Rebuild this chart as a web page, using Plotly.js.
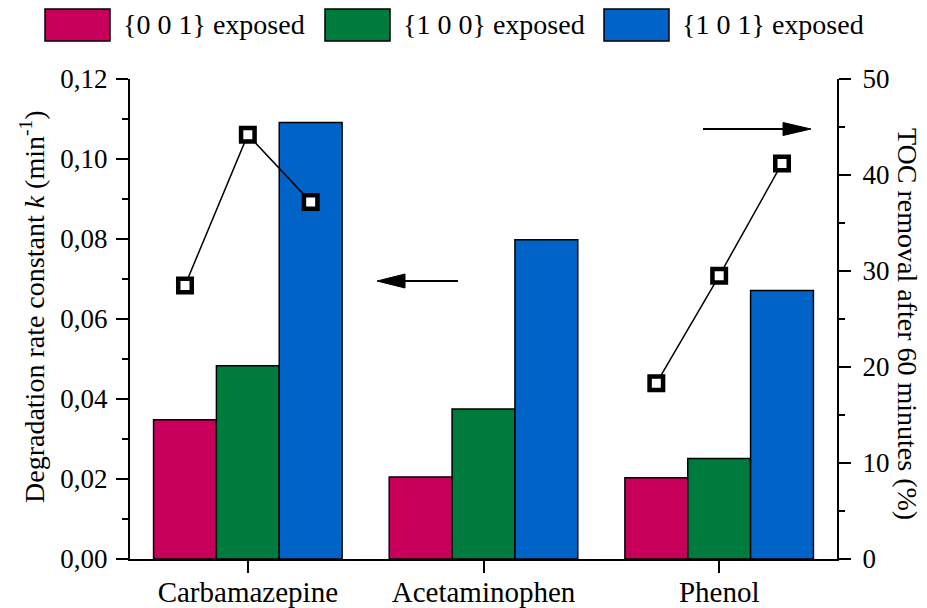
<!DOCTYPE html>
<html>
<head>
<meta charset="utf-8">
<script src="https://cdn.plot.ly/plotly-3.0.1.min.js"></script>
<style>html,body{margin:0;padding:0;background:#fff;}#chart{width:927px;height:608px;}</style>
</head>
<body>
<div id="chart"></div>
<script>
const categories = ['Carbamazepine', 'Acetaminophen', 'Phenol'];
const seriesNames = ['{0 0 1} exposed', '{1 0 0} exposed', '{1 0 1} exposed'];
const rate001 = [0.0348, 0.0205, 0.0203];
const rate100 = [0.0483, 0.0375, 0.0251];
const rate101 = [0.1091, 0.0798, 0.0671];
const toc001 = [28.5, null, 18.3];
const toc100 = [44.2, null, 29.5];
const toc101 = [37.2, null, 41.2];

const colors = ['#C8005C', '#007B3E', '#0063C8'];
const FONT = 'Liberation Serif, serif';
const bargap = 0.2;
const catIdx = categories.map((c, i) => i);
const rates = [rate001, rate100, rate101];
const tocs = [toc001, toc100, toc101];
const nS = rates.length;
const bw = (1 - bargap) / nS;
const offsets = rates.map((r, k) => (k - (nS - 1) / 2) * bw);

const traces = [];
rates.forEach((r, k) => {
  traces.push({
    type: 'bar', x: catIdx, y: r, name: seriesNames[k],
    marker: {color: colors[k], line: {color: '#000', width: 1.5}},
    xaxis: 'x', yaxis: 'y', showlegend: false
  });
});
catIdx.forEach(i => {
  const ys = tocs.map(t => t[i]);
  if (ys.every(v => v === null)) return;
  traces.push({
    type: 'scatter', mode: 'lines+markers',
    x: offsets.map(o => i + o), y: ys,
    xaxis: 'x', yaxis: 'y2', showlegend: false,
    line: {color: '#000', width: 1.5},
    marker: {symbol: 'square', size: 13.5, color: '#fff', line: {color: '#000', width: 4.5}}
  });
});

const L = 130, R = 837, T = 79, B = 559, W = 927, H = 608;
const px = v => (v - L) / (R - L);
const py = v => (B - v) / (B - T);

const shapes = [];
const annotations = [];
// legend
const boxX = [45, 325, 604];
seriesNames.forEach((n, k) => {
  shapes.push({type: 'rect', xref: 'paper', yref: 'paper', x0: px(boxX[k]), x1: px(boxX[k] + 65),
    y0: py(41), y1: py(9), fillcolor: colors[k], line: {color: '#000', width: 1.5}});
  annotations.push({xref: 'paper', yref: 'paper', x: px(boxX[k] + 76), y: py(25), xanchor: 'left', yanchor: 'middle',
    text: n, showarrow: false, font: {family: FONT, size: 28, color: '#000'}});
});
// arrows
function arrow(tail, base, tip, y, half) {
  shapes.push({type: 'line', xref: 'paper', yref: 'paper', x0: px(tail), x1: px(base), y0: py(y), y1: py(y),
    line: {color: '#000', width: 2}});
  shapes.push({type: 'path', xref: 'paper', yref: 'paper',
    path: `M${px(tip)},${py(y)} L${px(base)},${py(y - half)} L${px(base)},${py(y + half)} Z`,
    fillcolor: '#000', line: {color: '#000', width: 1}});
}
arrow(458, 405, 377, 281, 7);
arrow(703, 783, 811, 129, 6.5);
// axis titles
annotations.push({xref: 'paper', yref: 'paper', x: px(32), y: py(307), xanchor: 'center', yanchor: 'middle',
  textangle: -90, showarrow: false, text: 'Degradation rate constant <i>k</i> (min<sup>-1</sup>)',
  font: {family: FONT, size: 28, color: '#000'}});
annotations.push({xref: 'paper', yref: 'paper', x: px(908), y: py(324), xanchor: 'center', yanchor: 'middle',
  textangle: 90, showarrow: false, text: 'TOC removal after 60 minutes (%)',
  font: {family: FONT, size: 28, color: '#000'}});

const layout = {
  width: W, height: H,
  margin: {l: L, r: W - R, t: T, b: H - B, pad: 0},
  paper_bgcolor: '#fff', plot_bgcolor: '#fff',
  separators: ',.',
  barmode: 'group', bargap: bargap, bargroupgap: 0,
  showlegend: false,
  font: {family: FONT, color: '#000'},
  xaxis: {
    range: [-0.5, categories.length - 0.5], tickvals: catIdx, ticktext: categories,
    showline: true, linecolor: '#000', linewidth: 2, ticks: 'outside', ticklen: 12, tickwidth: 2, tickcolor: '#000',
    ticklabelstandoff: -6,
    showgrid: false, zeroline: false, tickfont: {family: FONT, size: 29, color: '#000'}
  },
  yaxis: {
    range: [0, 0.12], dtick: 0.02, tickformat: '.2f',
    showline: true, linecolor: '#000', linewidth: 2, ticks: 'outside', ticklen: 12, tickwidth: 2, tickcolor: '#000',
    ticklabelstandoff: 3,
    minor: {dtick: 0.01, ticks: 'outside', ticklen: 6, tickwidth: 2, tickcolor: '#000'},
    showgrid: false, zeroline: false, tickfont: {family: FONT, size: 27, color: '#000'}
  },
  yaxis2: {
    range: [0, 50], dtick: 10, overlaying: 'y', side: 'right',
    showline: true, linecolor: '#000', linewidth: 2, ticks: 'outside', ticklen: 12, tickwidth: 2, tickcolor: '#000',
    ticklabelstandoff: 6,
    minor: {dtick: 5, ticks: 'outside', ticklen: 6, tickwidth: 2, tickcolor: '#000'},
    showgrid: false, zeroline: false, tickfont: {family: FONT, size: 27, color: '#000'}
  },
  shapes: shapes,
  annotations: annotations
};

Plotly.newPlot('chart', traces, layout, {displayModeBar: false, staticPlot: true});
</script>
</body>
</html>
